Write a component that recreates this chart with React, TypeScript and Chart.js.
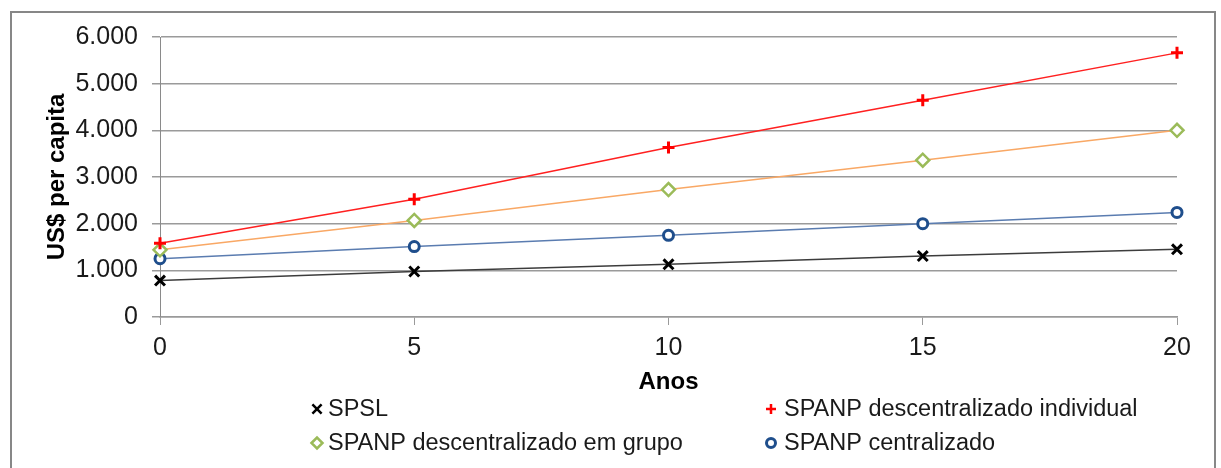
import React, { useEffect, useRef } from 'react';
import { Chart, registerables } from 'chart.js';
import { drawPoint } from 'chart.js/helpers';

Chart.register(...registerables);

// ---- Data ----
const years = [0, 5, 10, 15, 20];
const spsl = [780, 975, 1130, 1305, 1450];
const descIndividual = [1580, 2525, 3630, 4645, 5660];
const descGrupo = [1440, 2070, 2730, 3360, 4000];
const centralizado = [1250, 1510, 1750, 2000, 2240];
const seriesLabels = [
  'SPSL',
  'SPANP descentralizado individual',
  'SPANP descentralizado em grupo',
  'SPANP centralizado',
];
const xTitle = 'Anos';
const yTitle = 'US$ per capita';

const FONT = "'Liberation Sans', Arial, sans-serif";

const toPoints = (vals: number[]) => years.map((x, i) => ({ x, y: vals[i] }));

const fmtThousands = (v: number) => {
  if (v === 0) return '0';
  const s = String(Math.round(v));
  return s.replace(/\B(?=(\d{3})+(?!\d))/g, '.');
};

const frameAndLegend = {
  id: 'frameAndLegend',
  beforeDraw(chart: any) {
    const ctx = chart.ctx;
    ctx.save();
    ctx.fillStyle = '#ffffff';
    ctx.fillRect(0, 0, chart.width, chart.height);
    ctx.strokeStyle = '#878787';
    ctx.lineWidth = 2;
    ctx.strokeRect(11, 12, 1204, 470);
    ctx.restore();
  },
  afterDraw(chart: any) {
    const ctx = chart.ctx;
    const markerX = [317, 771];
    const textX = [328, 784];
    const rowY = [409, 443];
    ctx.save();
    ctx.font = `23.5px ${FONT}`;
    ctx.textBaseline = 'middle';
    ctx.textAlign = 'left';
    chart.data.datasets.forEach((ds: any, i: number) => {
      const col = i % 2;
      const row = Math.floor(i / 2);
      const mx = markerX[col];
      const my = rowY[row];
      ctx.save();
      ctx.strokeStyle = ds.pointBorderColor;
      ctx.fillStyle = ds.pointBackgroundColor;
      ctx.lineWidth = ds.legendBorderWidth;
      drawPoint(ctx, {
        pointStyle: ds.pointStyle,
        radius: ds.legendRadius,
        rotation: 0,
        borderWidth: ds.legendBorderWidth,
      } as any, mx, my);
      ctx.restore();
      ctx.fillStyle = '#1a1a1a';
      ctx.fillText(seriesLabels[i], textX[col], my + 1);
    });
    ctx.restore();
  },
};

export default function App() {
  const ref = useRef<HTMLCanvasElement | null>(null);

  useEffect(() => {
    document.body.style.margin = '0';
    const canvas = ref.current;
    if (!canvas) return;
    const chart = new Chart(canvas, {
      type: 'line',
      data: {
        datasets: [
          {
            label: seriesLabels[0],
            data: toPoints(spsl),
            borderColor: '#3c3c3c',
            borderWidth: 1.5,
            pointStyle: 'crossRot',
            pointRadius: 7,
            pointBorderWidth: 3,
            pointBorderColor: '#000000',
            pointBackgroundColor: '#000000',
            clip: false,
            legendRadius: 6.5,
            legendBorderWidth: 2.5,
          } as any,
          {
            label: seriesLabels[1],
            data: toPoints(descIndividual),
            borderColor: '#ff2020',
            borderWidth: 1.5,
            pointStyle: 'cross',
            pointRadius: 6,
            pointBorderWidth: 3,
            pointBorderColor: '#ff0000',
            pointBackgroundColor: '#ff0000',
            clip: false,
            legendRadius: 5,
            legendBorderWidth: 2.5,
          } as any,
          {
            label: seriesLabels[2],
            data: toPoints(descGrupo),
            borderColor: '#f9a865',
            borderWidth: 1.5,
            pointStyle: 'rectRot',
            pointRadius: 6.5,
            pointBorderWidth: 2.5,
            pointBorderColor: '#9bbb59',
            pointBackgroundColor: '#ffffff',
            clip: false,
            legendRadius: 5.5,
            legendBorderWidth: 2.5,
          } as any,
          {
            label: seriesLabels[3],
            data: toPoints(centralizado),
            borderColor: '#5a7cb0',
            borderWidth: 1.5,
            pointStyle: 'circle',
            pointRadius: 5,
            pointBorderWidth: 3,
            pointBorderColor: '#1f4e8c',
            pointBackgroundColor: '#ffffff',
            clip: false,
            legendRadius: 4.5,
            legendBorderWidth: 3,
          } as any,
        ],
      },
      options: {
        responsive: false,
        animation: false,
        devicePixelRatio: 1,
        layout: { padding: { left: 0, top: 37, right: 44, bottom: 0 } },
        plugins: {
          legend: { display: false },
          tooltip: { enabled: false },
          title: { display: false },
        },
        scales: {
          x: {
            type: 'linear',
            min: 0,
            max: 20,
            afterFit: (s: any) => {
              s.height = 151;
            },
            ticks: {
              stepSize: 5,
              padding: 8,
              color: '#1a1a1a',
              font: { family: FONT, size: 25 },
              maxRotation: 0,
            },
            grid: {
              drawOnChartArea: false,
              drawTicks: true,
              tickLength: 8,
              color: '#9a9a9a',
              lineWidth: 1,
            },
            border: { display: true, color: '#9a9a9a', width: 1.5 },
            title: {
              display: true,
              text: xTitle,
              color: '#000000',
              font: { family: FONT, size: 24, weight: 'bold' },
              padding: { top: 0, bottom: 71 },
            },
          },
          y: {
            type: 'linear',
            min: 0,
            max: 6000,
            afterFit: (s: any) => {
              s.width = 160;
            },
            ticks: {
              stepSize: 1000,
              padding: 14,
              color: '#1a1a1a',
              font: { family: FONT, size: 25 },
              callback: (v: any) => fmtThousands(Number(v)),
            },
            grid: {
              drawOnChartArea: true,
              drawTicks: true,
              tickLength: 8,
              color: '#9a9a9a',
              lineWidth: 1.5,
            },
            border: { display: true, color: '#8a8a8a', width: 1 },
            title: {
              display: true,
              text: yTitle,
              color: '#000000',
              font: { family: FONT, size: 24, weight: 'bold' },
              padding: { top: 43, bottom: 0 },
            },
          },
        },
      } as any,
      plugins: [frameAndLegend],
    });
    return () => chart.destroy();
  }, []);

  return (
    <div style={{ width: 1221, height: 468 }}>
      <canvas ref={ref} width={1221} height={468} style={{ display: 'block' }} />
    </div>
  );
}
